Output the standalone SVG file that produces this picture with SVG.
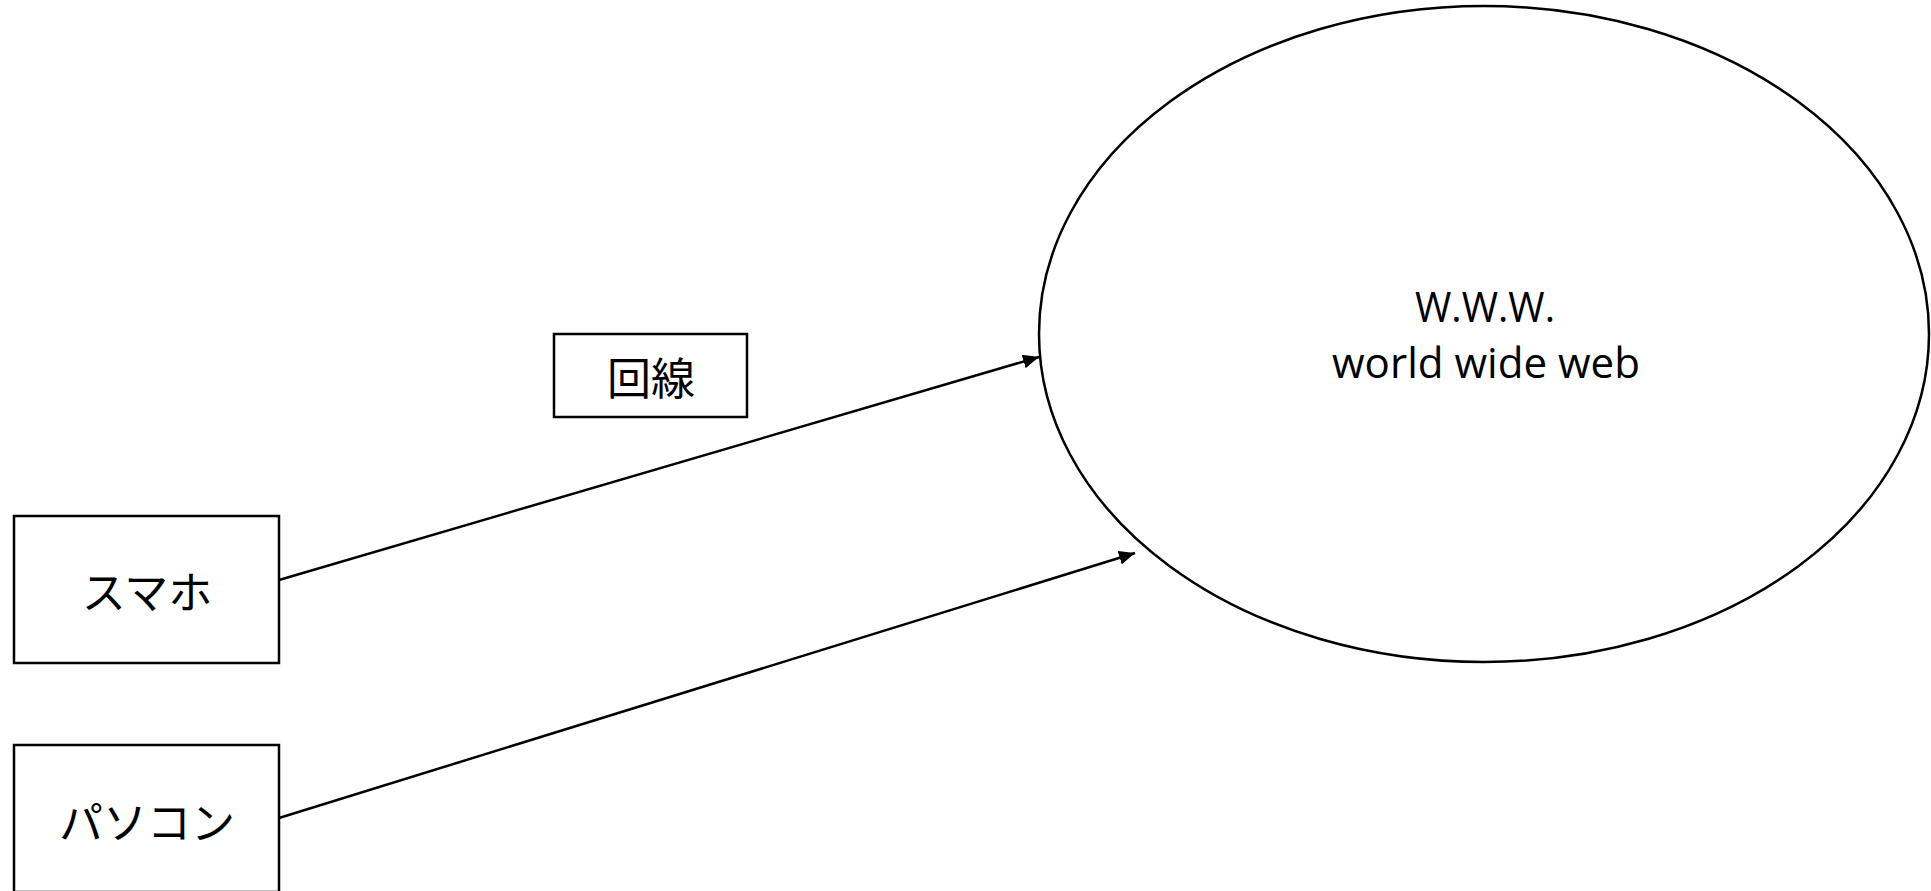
<svg xmlns="http://www.w3.org/2000/svg" width="1931" height="891" viewBox="0 0 1931 891">
<style>
.box{fill:#fff;stroke:#000;stroke-width:2.5}
.jp{font-family:"Noto Sans CJK JP","Noto Sans",sans-serif;font-size:44px;fill:#000;text-anchor:middle;dominant-baseline:central}
.lat{font-family:"Open Sans","Noto Sans",sans-serif;font-size:42px;fill:#000;text-anchor:middle}
.conn{stroke:#000;stroke-width:2.5;fill:none}
</style>
<defs>
<marker id="arr" markerUnits="userSpaceOnUse" markerWidth="18" markerHeight="14" refX="16" refY="7" orient="auto">
<path d="M0,0 L16,7 L0,14 Z" fill="#000"/>
</marker>
</defs>
<rect width="1931" height="891" fill="#fff"/>
<g id="node-www">
<ellipse cx="1484" cy="334" rx="445" ry="328" class="box"/>
<text class="lat" x="1485" y="322" textLength="140" lengthAdjust="spacingAndGlyphs">W.W.W.</text>
<text class="lat" x="1486" y="378" textLength="308" lengthAdjust="spacingAndGlyphs">world wide web</text>
</g>
<g id="node-line">
<rect x="554" y="334" width="193" height="83" class="box"/>
<text class="jp" x="651" y="376">回線</text>
</g>
<g id="node-smartphone">
<rect x="14" y="516" width="265" height="147" class="box"/>
<text class="jp" x="147" y="590">スマホ</text>
</g>
<g id="node-pc">
<rect x="14" y="745" width="265" height="147" class="box"/>
<text class="jp" x="147" y="820">パソコン</text>
</g>
<g id="connectors">
<line class="conn" x1="279" y1="580" x2="1039" y2="357" marker-end="url(#arr)"/>
<line class="conn" x1="279" y1="818" x2="1135" y2="553" marker-end="url(#arr)"/>
</g>
</svg>
